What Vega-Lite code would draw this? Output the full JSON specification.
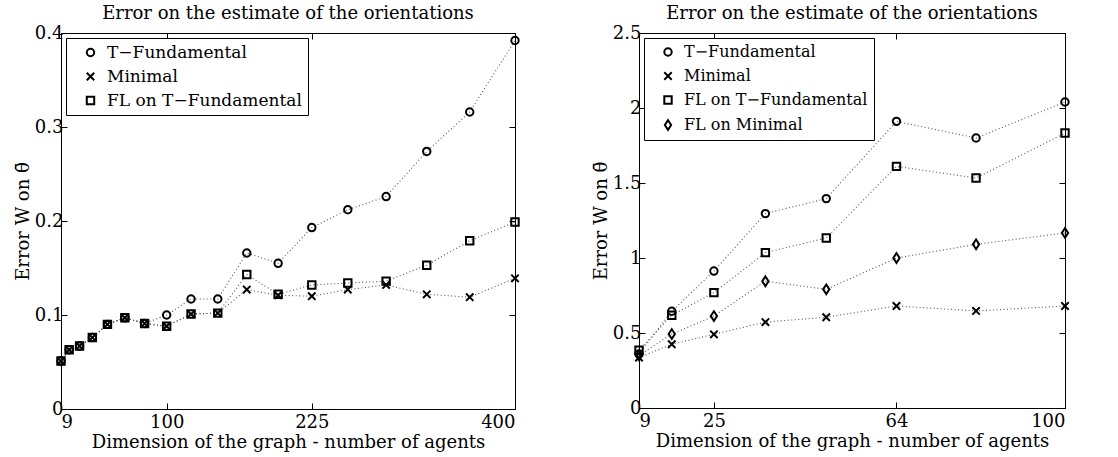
{
  "$schema": "https://vega.github.io/schema/vega-lite/v6.json",
  "padding": {"left": 13, "top": 4, "right": 5, "bottom": 5},
  "background": "white",
  "spacing": 67,
  "resolve": {"scale": {"shape": "independent"}, "legend": {"shape": "independent"}},
  "datasets": {
    "left": [
      {"n": 9, "series": "T−Fundamental", "v": 0.051},
      {"n": 16, "series": "T−Fundamental", "v": 0.063},
      {"n": 25, "series": "T−Fundamental", "v": 0.067},
      {"n": 36, "series": "T−Fundamental", "v": 0.076},
      {"n": 49, "series": "T−Fundamental", "v": 0.090},
      {"n": 64, "series": "T−Fundamental", "v": 0.097},
      {"n": 81, "series": "T−Fundamental", "v": 0.091},
      {"n": 100, "series": "T−Fundamental", "v": 0.100},
      {"n": 121, "series": "T−Fundamental", "v": 0.117},
      {"n": 144, "series": "T−Fundamental", "v": 0.117},
      {"n": 169, "series": "T−Fundamental", "v": 0.166},
      {"n": 196, "series": "T−Fundamental", "v": 0.155},
      {"n": 225, "series": "T−Fundamental", "v": 0.193},
      {"n": 256, "series": "T−Fundamental", "v": 0.212},
      {"n": 289, "series": "T−Fundamental", "v": 0.226},
      {"n": 324, "series": "T−Fundamental", "v": 0.274},
      {"n": 361, "series": "T−Fundamental", "v": 0.316},
      {"n": 400, "series": "T−Fundamental", "v": 0.392},
      {"n": 9, "series": "Minimal", "v": 0.051},
      {"n": 16, "series": "Minimal", "v": 0.063},
      {"n": 25, "series": "Minimal", "v": 0.067},
      {"n": 36, "series": "Minimal", "v": 0.076},
      {"n": 49, "series": "Minimal", "v": 0.090},
      {"n": 64, "series": "Minimal", "v": 0.097},
      {"n": 81, "series": "Minimal", "v": 0.091},
      {"n": 100, "series": "Minimal", "v": 0.088},
      {"n": 121, "series": "Minimal", "v": 0.101},
      {"n": 144, "series": "Minimal", "v": 0.102},
      {"n": 169, "series": "Minimal", "v": 0.127},
      {"n": 196, "series": "Minimal", "v": 0.121},
      {"n": 225, "series": "Minimal", "v": 0.120},
      {"n": 256, "series": "Minimal", "v": 0.127},
      {"n": 289, "series": "Minimal", "v": 0.132},
      {"n": 324, "series": "Minimal", "v": 0.122},
      {"n": 361, "series": "Minimal", "v": 0.119},
      {"n": 400, "series": "Minimal", "v": 0.139},
      {"n": 9, "series": "FL on T−Fundamental", "v": 0.051},
      {"n": 16, "series": "FL on T−Fundamental", "v": 0.063},
      {"n": 25, "series": "FL on T−Fundamental", "v": 0.067},
      {"n": 36, "series": "FL on T−Fundamental", "v": 0.076},
      {"n": 49, "series": "FL on T−Fundamental", "v": 0.090},
      {"n": 64, "series": "FL on T−Fundamental", "v": 0.097},
      {"n": 81, "series": "FL on T−Fundamental", "v": 0.091},
      {"n": 100, "series": "FL on T−Fundamental", "v": 0.088},
      {"n": 121, "series": "FL on T−Fundamental", "v": 0.101},
      {"n": 144, "series": "FL on T−Fundamental", "v": 0.102},
      {"n": 169, "series": "FL on T−Fundamental", "v": 0.143},
      {"n": 196, "series": "FL on T−Fundamental", "v": 0.122},
      {"n": 225, "series": "FL on T−Fundamental", "v": 0.132},
      {"n": 256, "series": "FL on T−Fundamental", "v": 0.134},
      {"n": 289, "series": "FL on T−Fundamental", "v": 0.136},
      {"n": 324, "series": "FL on T−Fundamental", "v": 0.153},
      {"n": 361, "series": "FL on T−Fundamental", "v": 0.179},
      {"n": 400, "series": "FL on T−Fundamental", "v": 0.199}
    ],
    "right": [
      {"n": 9, "series": "T−Fundamental", "v": 0.36},
      {"n": 16, "series": "T−Fundamental", "v": 0.645},
      {"n": 25, "series": "T−Fundamental", "v": 0.913},
      {"n": 36, "series": "T−Fundamental", "v": 1.296},
      {"n": 49, "series": "T−Fundamental", "v": 1.396},
      {"n": 64, "series": "T−Fundamental", "v": 1.911},
      {"n": 81, "series": "T−Fundamental", "v": 1.80},
      {"n": 100, "series": "T−Fundamental", "v": 2.04},
      {"n": 9, "series": "Minimal", "v": 0.336},
      {"n": 16, "series": "Minimal", "v": 0.425},
      {"n": 25, "series": "Minimal", "v": 0.491},
      {"n": 36, "series": "Minimal", "v": 0.573},
      {"n": 49, "series": "Minimal", "v": 0.605},
      {"n": 64, "series": "Minimal", "v": 0.68},
      {"n": 81, "series": "Minimal", "v": 0.647},
      {"n": 100, "series": "Minimal", "v": 0.68},
      {"n": 9, "series": "FL on T−Fundamental", "v": 0.385},
      {"n": 16, "series": "FL on T−Fundamental", "v": 0.618},
      {"n": 25, "series": "FL on T−Fundamental", "v": 0.769},
      {"n": 36, "series": "FL on T−Fundamental", "v": 1.036},
      {"n": 49, "series": "FL on T−Fundamental", "v": 1.133},
      {"n": 64, "series": "FL on T−Fundamental", "v": 1.611},
      {"n": 81, "series": "FL on T−Fundamental", "v": 1.533},
      {"n": 100, "series": "FL on T−Fundamental", "v": 1.833},
      {"n": 9, "series": "FL on Minimal", "v": 0.351},
      {"n": 16, "series": "FL on Minimal", "v": 0.493},
      {"n": 25, "series": "FL on Minimal", "v": 0.613},
      {"n": 36, "series": "FL on Minimal", "v": 0.845},
      {"n": 49, "series": "FL on Minimal", "v": 0.791},
      {"n": 64, "series": "FL on Minimal", "v": 1.0},
      {"n": 81, "series": "FL on Minimal", "v": 1.091},
      {"n": 100, "series": "FL on Minimal", "v": 1.167}
    ]
  },
  "hconcat": [
    {
      "width": 454,
      "height": 376,
      "data": {"name": "left"},
      "title": {"text": "Error on the estimate of the orientations"},
      "layer": [
        {
          "mark": {"type": "line", "strokeDash": [1, 2.5], "strokeWidth": 1.1, "color": "#555"},
          "encoding": {
            "x": {"field": "n", "type": "quantitative", "scale": {"domain": [9, 400], "nice": false, "zero": false},
                  "axis": {"orient": "bottom", "values": [9, 100, 225, 400], "title": "Dimension of the graph - number of agents"}},
            "y": {"field": "v", "type": "quantitative", "scale": {"domain": [0, 0.4], "nice": false},
                  "axis": {"orient": "left", "values": [0, 0.1, 0.2, 0.3, 0.4], "format": "~g", "title": "Error W on θ̄", "labelPadding": 4}},
            "detail": {"field": "series"}
          }
        },
        {
          "mark": {"type": "point", "filled": false, "color": "black", "strokeWidth": 2, "size": 55, "opacity": 1},
          "encoding": {
            "x": {"field": "n", "type": "quantitative",
                  "axis": {"orient": "top", "values": [9, 100, 225, 400], "labels": false, "title": null}},
            "y": {"field": "v", "type": "quantitative",
                  "axis": {"orient": "right", "values": [0, 0.1, 0.2, 0.3, 0.4], "labels": false, "title": null}},
            "shape": {"field": "series", "type": "nominal",
                      "legend": {"title": null, "labelFontSize": 17, "rowPadding": 6},
                      "scale": {"domain": ["T−Fundamental", "Minimal", "FL on T−Fundamental"],
                                "range": ["circle", "M-1,-1L1,1M-1,1L1,-1", "square"]}}
          }
        }
      ],
      "resolve": {"axis": {"x": "independent", "y": "independent"}}
    },
    {
      "width": 426,
      "height": 375,
      "data": {"name": "right"},
      "title": {"text": "Error on the estimate of the orientations"},
      "layer": [
        {
          "mark": {"type": "line", "strokeDash": [1, 2.5], "strokeWidth": 1.1, "color": "#555"},
          "encoding": {
            "x": {"field": "n", "type": "quantitative", "scale": {"domain": [9, 100], "nice": false, "zero": false},
                  "axis": {"orient": "bottom", "values": [9, 25, 64, 100], "title": "Dimension of the graph - number of agents"}},
            "y": {"field": "v", "type": "quantitative", "scale": {"domain": [0, 2.5], "nice": false},
                  "axis": {"orient": "left", "values": [0, 0.5, 1, 1.5, 2, 2.5], "format": "~g", "title": "Error W on θ̄", "labelPadding": 4}},
            "detail": {"field": "series"}
          }
        },
        {
          "mark": {"type": "point", "filled": false, "color": "black", "strokeWidth": 2, "size": 55, "opacity": 1},
          "encoding": {
            "x": {"field": "n", "type": "quantitative",
                  "axis": {"orient": "top", "values": [9, 25, 64, 100], "labels": false, "title": null}},
            "y": {"field": "v", "type": "quantitative",
                  "axis": {"orient": "right", "values": [0, 0.5, 1, 1.5, 2, 2.5], "labels": false, "title": null}},
            "shape": {"field": "series", "type": "nominal",
                      "legend": {"title": null, "labelFontSize": 16, "rowPadding": 8},
                      "scale": {"domain": ["T−Fundamental", "Minimal", "FL on T−Fundamental", "FL on Minimal"],
                                "range": ["circle", "M-1,-1L1,1M-1,1L1,-1", "square", "M0,-1.3L0.85,0L0,1.3L-0.85,0Z"]}}
          }
        }
      ],
      "resolve": {"axis": {"x": "independent", "y": "independent"}}
    }
  ],
  "config": {
    "view": {"stroke": "black", "strokeWidth": 1},
    "font": "DejaVu Serif",
    "title": {"font": "DejaVu Serif", "fontSize": 18, "fontWeight": "normal", "color": "black", "offset": 1},
    "axis": {
      "grid": false, "domainColor": "black", "domainWidth": 1, "tickColor": "black", "tickSize": -6,
      "labelColor": "black", "titleColor": "black", "labelFont": "DejaVu Serif", "titleFont": "DejaVu Serif",
      "labelFontSize": 18, "titleFontSize": 18, "titleFontWeight": "normal", "labelPadding": 10, "titlePadding": 2
    },
    "legend": {
      "orient": "top-left", "offset": 5, "strokeColor": "black", "fillColor": "white", "padding": 6,
      "labelFont": "DejaVu Serif", "labelFontSize": 17, "labelColor": "black", "symbolStrokeWidth": 2,
      "symbolSize": 55, "symbolStrokeColor": "black", "rowPadding": 6, "cornerRadius": 0, "labelLimit": 300,
      "symbolOffset": 10, "labelOffset": 8
    }
  }
}
